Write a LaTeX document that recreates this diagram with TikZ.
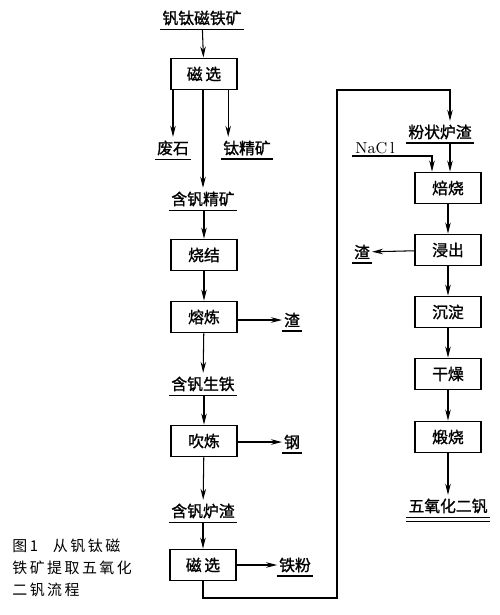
\documentclass[tikz,border=0pt]{standalone}
\usepackage{fontspec}
\newfontfamily\cjk[FakeBold=1.2]{Noto Sans CJK SC}
\newfontfamily\cjklight{Noto Sans CJK SC}
\usetikzlibrary{arrows.meta}
\tikzset{
  >={Stealth[length=2.2mm,width=1.1mm]},
  x=0.02cm,y=-0.02cm,
  stepbox/.style={draw,line width=1.1pt,minimum width=1.32cm,minimum height=0.62cm,
    font=\cjk\fontsize{9}{10}\selectfont,inner sep=0pt},
  prod/.style={font=\cjk\fontsize{9}{10}\selectfont,inner sep=1pt,inner ysep=2pt},
  flow/.style={->,line width=0.6pt},
}
\begin{document}
\begin{tikzpicture}
  \useasboundingbox (0,0) rectangle (500,615);
  % left column
  \node[prod] (ore) at (202,18) {钒钛磁铁矿};
  \node[stepbox] (mag1) at (204,74) {磁\,选};
  \node[prod] (waste) at (173,148) {废石};
  \node[prod] (ti) at (247,148) {钛精矿};
  \node[prod] (vconc) at (203,199) {含钒精矿};
  \node[stepbox] (sinter) at (204,255) {烧结};
  \node[stepbox] (smelt) at (204,317) {熔炼};
  \node[prod] (slag1) at (292,320) {渣};
  \node[prod] (pig) at (203,384) {含钒生铁};
  \node[stepbox] (blow) at (204,441) {吹炼};
  \node[prod] (steel) at (292,442) {钢};
  \node[prod] (vslag) at (203,511) {含钒炉渣};
  \node[stepbox] (mag2) at (203,565) {磁\,选};
  \node[prod] (fe) at (295,565) {铁粉};
  % right column
  \node[prod] (powder) at (440,132) {粉状炉渣};
  \node[font=\fontsize{9}{10}\selectfont,inner sep=1pt] (nacl) at (375,148) {NaC\,l};
  \node[stepbox] (roast) at (448,188) {焙烧};
  \node[stepbox] (leach) at (448,250) {浸出};
  \node[prod] (slag2) at (362,252) {渣};
  \node[stepbox] (prec) at (448,312) {沉淀};
  \node[stepbox] (dry) at (448,374) {干燥};
  \node[stepbox] (calc) at (448,437) {煅烧};
  \node[prod] (v2o5) at (448,506) {五氧化二钒};
  % caption
  \node[font=\cjklight\fontsize{8.5}{12.5}\selectfont,align=left,inner sep=0pt,anchor=north west] (cap) at (12,539)
    {图\,1\quad 从\,钒\,钛\,磁\\铁\,矿\,提\,取\,五\,氧\,化\\二\,钒\,流\,程};
  % underlines
  \foreach \n in {ore,waste,ti,vconc,slag1,pig,steel,vslag,fe,powder,slag2,v2o5}
    \draw[line width=0.8pt] (\n.south west) -- (\n.south east);
  \draw[line width=0.8pt] ([yshift=-2.5pt]v2o5.south west) -- ([yshift=-2.5pt]v2o5.south east);
  % connectors
  \draw[flow] (ore) -- (mag1);
  \draw[flow] (mag1.south -| waste) -- (waste);
  \draw[flow] (mag1.south -| ti.west) ++(7,0) coordinate (tiin) -- (tiin |- ti.north);
  \draw[flow] (mag1.south -| vconc) -- (vconc);
  \draw[flow] (vconc.south -| sinter) -- (sinter);
  \draw[flow] (sinter) -- (smelt);
  \draw[flow] (smelt.east |- slag1) -- (slag1);
  \draw[flow] (smelt) -- (pig);
  \draw[flow] (pig.south -| blow) -- (blow);
  \draw[flow] (blow.east |- steel) -- (steel);
  \draw[flow] (blow) -- (vslag);
  \draw[flow] (vslag.south -| mag2) -- (mag2);
  \draw[flow] (mag2) -- (fe);
  \coordinate (turn) at (450,90);
  \draw[flow] (mag2.south) |- (337,598) |- (turn) -- (turn |- powder.north);
  \draw[flow] (powder.south -| turn) -- (turn |- roast.north);
  \coordinate (naclin) at (432,156);
  \draw[flow] (352,156) -- (naclin) -- (naclin |- roast.north);
  \draw[flow] (roast) -- (leach);
  \draw[flow] (leach) -- (slag2);
  \draw[flow] (leach) -- (prec);
  \draw[flow] (prec) -- (dry);
  \draw[flow] (dry) -- (calc);
  \draw[flow] (calc) -- (v2o5);
\end{tikzpicture}
\end{document}
